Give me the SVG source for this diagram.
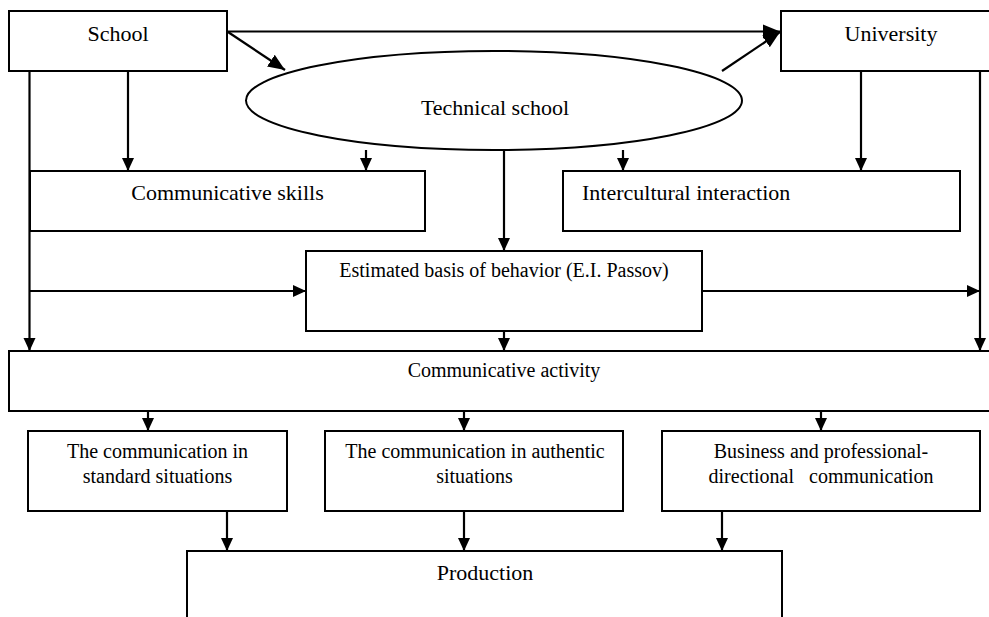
<svg xmlns="http://www.w3.org/2000/svg" width="989" height="617" viewBox="0 0 989 617">
<style>
.box{fill:#fff;stroke:#000;stroke-width:2}
.t{font-family:"Liberation Serif","Times New Roman",serif;fill:#000;font-size:20px}
.big{font-size:22px}
.c{text-anchor:middle}
.ln{fill:none;stroke:#000;stroke-width:2.2}
</style>
<defs>
<marker id="ah" markerUnits="userSpaceOnUse" markerWidth="14" markerHeight="14" viewBox="0 0 14 14" refX="13" refY="7" orient="auto">
<path d="M0,1 L13,7 L0,13 Z" fill="#000"/>
</marker>
<marker id="ahb" markerUnits="userSpaceOnUse" markerWidth="18" markerHeight="18" viewBox="0 0 18 18" refX="17" refY="9" orient="auto">
<path d="M0,2 L17,9 L0,16 Z" fill="#000"/>
</marker>
</defs>
<rect width="989" height="617" fill="#fff"/>

<g id="school"><rect class="box" x="9" y="11" width="218" height="60"/><text class="t big c" x="118" y="41">School</text></g>
<g id="university"><rect class="box" x="781" y="11" width="222" height="60"/><text class="t big c" x="891" y="41">University</text></g>
<g id="technical-school"><ellipse class="box" cx="494" cy="100.5" rx="248" ry="49.5"/><text class="t big c" x="495" y="115">Technical school</text></g>
<g id="communicative-skills"><rect class="box" x="30" y="171" width="395" height="60"/><text class="t big c" x="227.5" y="200">Communicative skills</text></g>
<g id="intercultural-interaction"><rect class="box" x="563" y="171" width="397" height="60"/><text class="t big" x="582" y="200">Intercultural interaction</text></g>
<g id="estimated-basis"><rect class="box" x="306" y="251" width="396" height="80"/><text class="t c" x="504" y="277">Estimated basis of behavior (E.I. Passov)</text></g>
<g id="communicative-activity"><rect class="box" x="9" y="351" width="990" height="60"/><text class="t c" x="504" y="377">Communicative activity</text></g>
<g id="standard"><rect class="box" x="28" y="431" width="259" height="80"/><text class="t c" x="157.5" y="458">The communication in</text><text class="t c" x="157.5" y="483">standard situations</text></g>
<g id="authentic"><rect class="box" x="325" y="431" width="298" height="80"/><text class="t c" x="475" y="458">The communication in authentic</text><text class="t c" x="474.5" y="483">situations</text></g>
<g id="business"><rect class="box" x="662" y="431" width="318" height="80"/><text class="t c" x="821" y="458">Business and professional-</text><text class="t c" x="821" y="483" xml:space="preserve" style="white-space:pre">directional   communication</text></g>
<g id="production"><rect class="box" x="187" y="551" width="595" height="80"/><text class="t big c" x="485" y="580">Production</text></g>

<g id="connectors">
<path class="ln" d="M227,31.5 H780" marker-end="url(#ahb)"/>
<path class="ln" d="M228,32 L285,70" marker-end="url(#ahb)"/>
<path class="ln" d="M722,71 L780,32" marker-end="url(#ahb)"/>
<path class="ln" d="M128,71 V171" marker-end="url(#ah)"/>
<path class="ln" d="M366,150 V171" marker-end="url(#ah)"/>
<path class="ln" d="M623,150 V171" marker-end="url(#ah)"/>
<path class="ln" d="M861,71 V171" marker-end="url(#ah)"/>
<path class="ln" d="M504,150 V251" marker-end="url(#ah)"/>
<path class="ln" d="M29.5,71 V351" marker-end="url(#ah)"/>
<path class="ln" d="M980,71 V351" marker-end="url(#ah)"/>
<path class="ln" d="M29.5,291 H306" marker-end="url(#ah)"/>
<path class="ln" d="M702,291 H980" marker-end="url(#ah)"/>
<path class="ln" d="M504,331 V351" marker-end="url(#ah)"/>
<path class="ln" d="M148,411 V431" marker-end="url(#ah)"/>
<path class="ln" d="M464,411 V431" marker-end="url(#ah)"/>
<path class="ln" d="M821,411 V431" marker-end="url(#ah)"/>
<path class="ln" d="M227,511 V551" marker-end="url(#ah)"/>
<path class="ln" d="M464,511 V551" marker-end="url(#ah)"/>
<path class="ln" d="M722,511 V551" marker-end="url(#ah)"/>
</g>
</svg>
